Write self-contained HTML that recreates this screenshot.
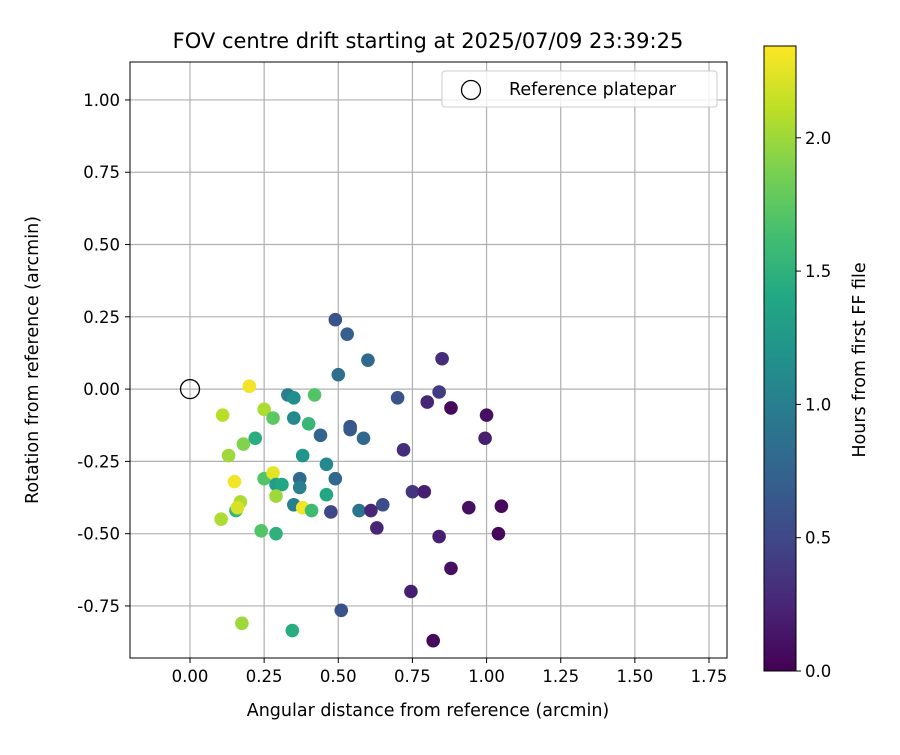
<!DOCTYPE html>
<html><head><meta charset="utf-8"><style>
body{margin:0;background:#fff;}
svg text{font-family:"DejaVu Sans","Liberation Sans",sans-serif;fill:#000;}
</style></head><body>
<svg id="chart" width="900" height="750" xmlns="http://www.w3.org/2000/svg">
<defs><linearGradient id="vir" x1="0" y1="1" x2="0" y2="0">
<stop offset="0" stop-color="#440154"/><stop offset="0.1" stop-color="#482475"/><stop offset="0.2" stop-color="#414487"/><stop offset="0.3" stop-color="#355f8d"/><stop offset="0.4" stop-color="#2a788e"/><stop offset="0.5" stop-color="#21918c"/><stop offset="0.6" stop-color="#22a884"/><stop offset="0.7" stop-color="#44bf70"/><stop offset="0.8" stop-color="#7ad151"/><stop offset="0.9" stop-color="#bddf26"/><stop offset="1" stop-color="#fde725"/></linearGradient>
<clipPath id="pc"><rect x="130" y="62" width="597" height="596"/></clipPath></defs>
<text x="428" y="48" font-size="21" text-anchor="middle">FOV centre drift starting at 2025/07/09 23:39:25</text>
<g id="grid"></g>
<g id="points" clip-path="url(#pc)"></g>
<rect x="130" y="62" width="597" height="596" fill="none" stroke="#000" stroke-width="1"/>
<g id="axes"></g>
<text x="428" y="716" font-size="17.5" text-anchor="middle">Angular distance from reference (arcmin)</text>
<text transform="translate(38,360) rotate(-90)" font-size="17.5" text-anchor="middle">Rotation from reference (arcmin)</text>
<g>
<rect x="442" y="71" width="275" height="36" rx="3" fill="#fff" fill-opacity="0.8" stroke="#ccc"/>
<circle cx="471" cy="90" r="9.5" fill="none" stroke="#000" stroke-width="1.3"/>
<text x="509" y="95" font-size="17.5">Reference platepar</text>
</g>
<rect x="764" y="46" width="32" height="625" fill="url(#vir)" stroke="#000" stroke-width="1"/>
<g id="cbticks"></g>
<text transform="translate(865,360) rotate(-90)" font-size="17.5" text-anchor="middle">Hours from first FF file</text>
</svg>
<script>
const xVals=[0.20,0.11,0.25,0.28,0.33,0.35,0.42,0.35,0.40,0.44,0.54,0.22,0.18,0.13,0.38,0.46,0.15,0.25,0.28,0.29,0.31,0.37,0.37,0.49,0.29,0.17,0.155,0.16,0.105,0.35,0.38,0.41,0.475,0.57,0.24,0.29,0.175,0.345,0.51,0.49,0.53,0.60,0.50,0.85,0.84,0.70,0.80,0.88,1.00,0.995,0.54,0.585,0.72,0.46,0.75,0.79,0.65,0.61,0.63,0.94,1.05,0.84,1.04,0.88,0.745,0.82];
const yVals=[0.01,-0.09,-0.07,-0.10,-0.02,-0.03,-0.02,-0.10,-0.12,-0.16,-0.13,-0.17,-0.19,-0.23,-0.23,-0.26,-0.32,-0.31,-0.29,-0.33,-0.33,-0.31,-0.34,-0.31,-0.37,-0.39,-0.42,-0.41,-0.45,-0.40,-0.41,-0.42,-0.425,-0.42,-0.49,-0.50,-0.81,-0.835,-0.765,0.24,0.19,0.10,0.05,0.105,-0.01,-0.03,-0.045,-0.065,-0.09,-0.17,-0.14,-0.17,-0.21,-0.365,-0.355,-0.355,-0.40,-0.42,-0.48,-0.41,-0.405,-0.51,-0.50,-0.62,-0.70,-0.87];
const hours=[2.3,2.1,2.05,1.75,1.0,1.15,1.7,1.1,1.55,0.75,0.6,1.45,1.9,2.0,1.2,1.1,2.3,1.7,2.25,1.3,1.4,0.8,1.0,0.8,2.0,2.05,1.55,2.2,2.05,1.0,2.3,1.6,0.5,0.9,1.7,1.5,2.0,1.45,0.6,0.6,0.7,0.8,0.85,0.3,0.4,0.6,0.25,0.05,0.1,0.2,0.65,0.8,0.3,1.4,0.35,0.2,0.55,0.25,0.25,0.1,0.05,0.2,0.05,0.1,0.2,0.05];
const xTicks=["0.00","0.25","0.50","0.75","1.00","1.25","1.50","1.75"];
const yTicks=["1.00","0.75","0.50","0.25","0.00","-0.25","-0.50","-0.75"];
const cbTicks=["0.0","0.5","1.0","1.5","2.0"];
const NS="http://www.w3.org/2000/svg";
const X=v=>190+v*296.57, Y=v=>389.1-v*289.14, C=v=>671-v*266.6, HMAX=2.344;
const vir=[[68,1,84],[72,36,117],[65,68,135],[53,95,141],[42,120,142],[33,145,140],[34,168,132],[68,191,112],[122,209,81],[189,223,38],[253,231,37]];
function cmap(h){let t=Math.max(0,Math.min(1,h/HMAX))*10,i=Math.min(9,Math.floor(t)),f=t-i,a=vir[i],b=vir[i+1];return `rgb(${a.map((c,k)=>Math.round(c+(b[k]-c)*f)).join(',')})`;}
function mk(tag,at,par){const e=document.createElementNS(NS,tag);for(const k in at)e.setAttribute(k,at[k]);document.getElementById(par).appendChild(e);return e;}
xTicks.forEach(t=>{const x=X(+t);
 const g=mk('line',{x1:x,x2:x,y1:62,y2:658,stroke:'#b0b0b0','stroke-width':1.2},'grid');
 
 
 mk('line',{x1:x,x2:x,y1:658,y2:663,stroke:'#000'},'axes');
 const l=mk('text',{x:x,y:682,'font-size':16.5,'text-anchor':'middle'},'axes');l.textContent=t;
 
 });
yTicks.forEach(t=>{const y=Y(+t);
 const g=mk('line',{x1:130,x2:727,y1:y,y2:y,stroke:'#b0b0b0','stroke-width':1.2},'grid');
 
 
 mk('line',{x1:125,x2:130,y1:y,y2:y,stroke:'#000'},'axes');
 const l=mk('text',{x:120,y:y+6,'font-size':16.5,'text-anchor':'end'},'axes');l.textContent=t;
 
 });
cbTicks.forEach(t=>{const y=C(+t);
 mk('line',{x1:796,x2:801,y1:y,y2:y,stroke:'#000'},'cbticks');
 const l=mk('text',{x:805,y:y+6,'font-size':16.5},'cbticks');l.textContent=t;
 
 });
xVals.forEach((v,i)=>{const c=mk('circle',{cx:X(v),cy:Y(yVals[i]),r:6.8,fill:cmap(hours[i])},'points');
 
 });
const r=mk('circle',{cx:X(0),cy:Y(0),r:9.5,fill:'none',stroke:'#000','stroke-width':1.3},'points');


</script>
</body></html>
